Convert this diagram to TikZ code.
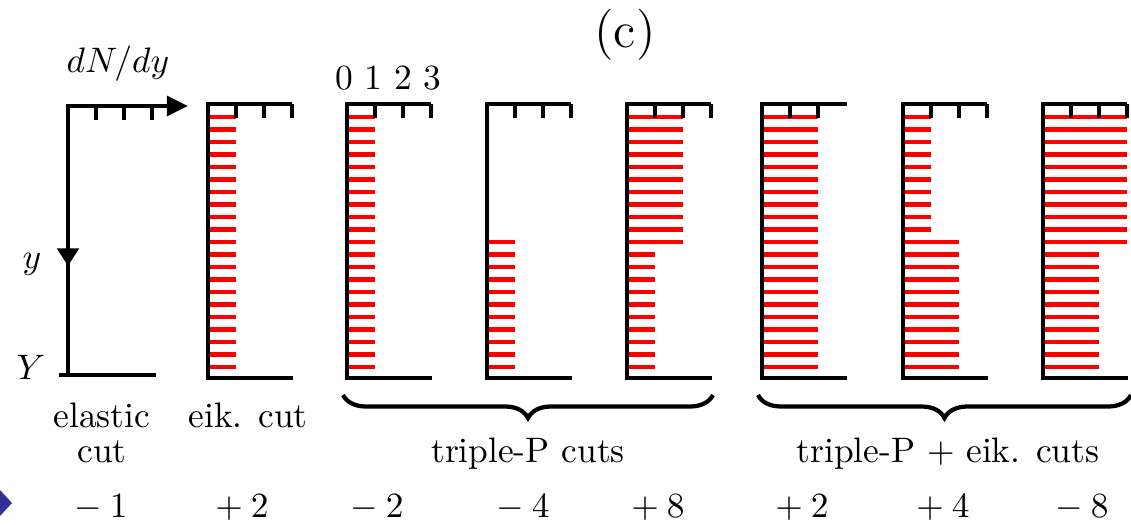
\documentclass[tikz,border=0pt]{standalone}
\usetikzlibrary{arrows.meta,decorations.pathreplacing}
\definecolor{bulletblue}{RGB}{50,50,150}
\begin{document}
\begin{tikzpicture}[x=0.2825pt,y=-0.2825pt,
	axisline/.style={line width=1.4pt},
	tickmark/.style={line width=1.2pt},
	redbar/.style={red,line width=1.3pt},
	cutbrace/.style={line width=1.2pt,decorate,decoration={brace,mirror,amplitude=6.5pt}},
	lbl/.style={anchor=base,inner sep=1pt}]
	\useasboundingbox (0,0) rectangle (1131,525);
	
	%Bullet at the left edge
	\fill[bulletblue] (0,490)--(12,503)--(0,516)--cycle;
	
	%Axes dN/dy and y
	\draw[axisline,-{Triangle[length=6pt,width=5.5pt]}] (68,375)--(68,106)--(188,106);
	\draw[axisline,-{Triangle[length=5pt,width=6pt]}] (68,200)--(68,266);
	\draw[axisline] (59,375)--(156,375);
	\foreach \k in {1,2,3}
	\draw[tickmark] (68+28*\k,106)--(68+28*\k,120);
	
	%Red bars, eik. cut and first triple-P cut
	\foreach \x in {208,347}
	\foreach \i in {0,...,20}
	\draw[redbar] (\x,117+12.5*\i)--(\x+28,117+12.5*\i);
	%Second triple-P cut
	\foreach \i in {10,...,20}
	\draw[redbar] (487,117+12.5*\i)--(487+28,117+12.5*\i);
	%Third triple-P cut
	\foreach \i in {0,...,10}
	\draw[redbar] (627,117+12.5*\i)--(627+56,117+12.5*\i);
	\foreach \i in {11,...,20}
	\draw[redbar] (627,117+12.5*\i)--(627+28,117+12.5*\i);
	%Triple-P + eik. cuts
	\foreach \i in {0,...,20}
	\draw[redbar] (762,117+12.5*\i)--(762+56,117+12.5*\i);
	\foreach \i in {0,...,9}
	\draw[redbar] (903,117+12.5*\i)--(903+28,117+12.5*\i);
	\foreach \i in {10,...,20}
	\draw[redbar] (903,117+12.5*\i)--(903+56,117+12.5*\i);
	\foreach \i in {0,...,10}
	\draw[redbar] (1043,117+12.5*\i)--(1043+84,117+12.5*\i);
	\foreach \i in {11,...,20}
	\draw[redbar] (1043,117+12.5*\i)--(1043+56,117+12.5*\i);
	
	%Frames of the cut panels
	\foreach \x in {208,347,487,627,903,1043}{
		\draw[axisline] (\x+84,104)--(\x,104)--(\x,378)--(\x+85,378);
		\foreach \k in {1,2,3}
		\draw[tickmark] (\x+28*\k,104)--(\x+28*\k,118);
	}
	\draw[axisline] (762+85,104)--(762,104)--(762,378)--(762+85,378);
	\foreach \k in {1,2}
	\draw[tickmark] (762+28*\k,104)--(762+28*\k,118);
	
	%Braces
	\draw[cutbrace] (343,395)--(713,395);
	\draw[cutbrace] (758,395)--(1131,395);
	
	%Labels
	\node[lbl,font=\Large] (title) at (625,47) {(c)};
	\node[lbl] (dndy) at (118,72) {$dN/dy$};
	\node[lbl] (ylbl) at (32,268) {$y$};
	\node[lbl] (Ylbl) at (31,379) {$Y$};
	\foreach \x/\d in {344/0,373/1,403/2,432/3}
	\node[lbl] (d\d) at (\x,89) {$\d$};
	\node[lbl] (elastic) at (102,427) {elastic};
	\node[lbl] (elcut) at (102,462) {cut};
	\node[lbl] (eikcut) at (248,427) {eik. cut};
	\node[lbl] (tripcuts) at (528,462) {triple-P cuts};
	\node[lbl] (tripeik) at (948,462) {triple-P $+$ eik. cuts};
	
	%Weights
	\foreach \x/\s/\d [count=\n] in {101/-/1,242/+/2,377/-/2,523/-/4,658/+/8,802/+/2,943/+/4,1082/-/8}
	\node[lbl] (w\n) at (\x,517) {$\s\:\d$};
	
\end{tikzpicture}
\end{document}
